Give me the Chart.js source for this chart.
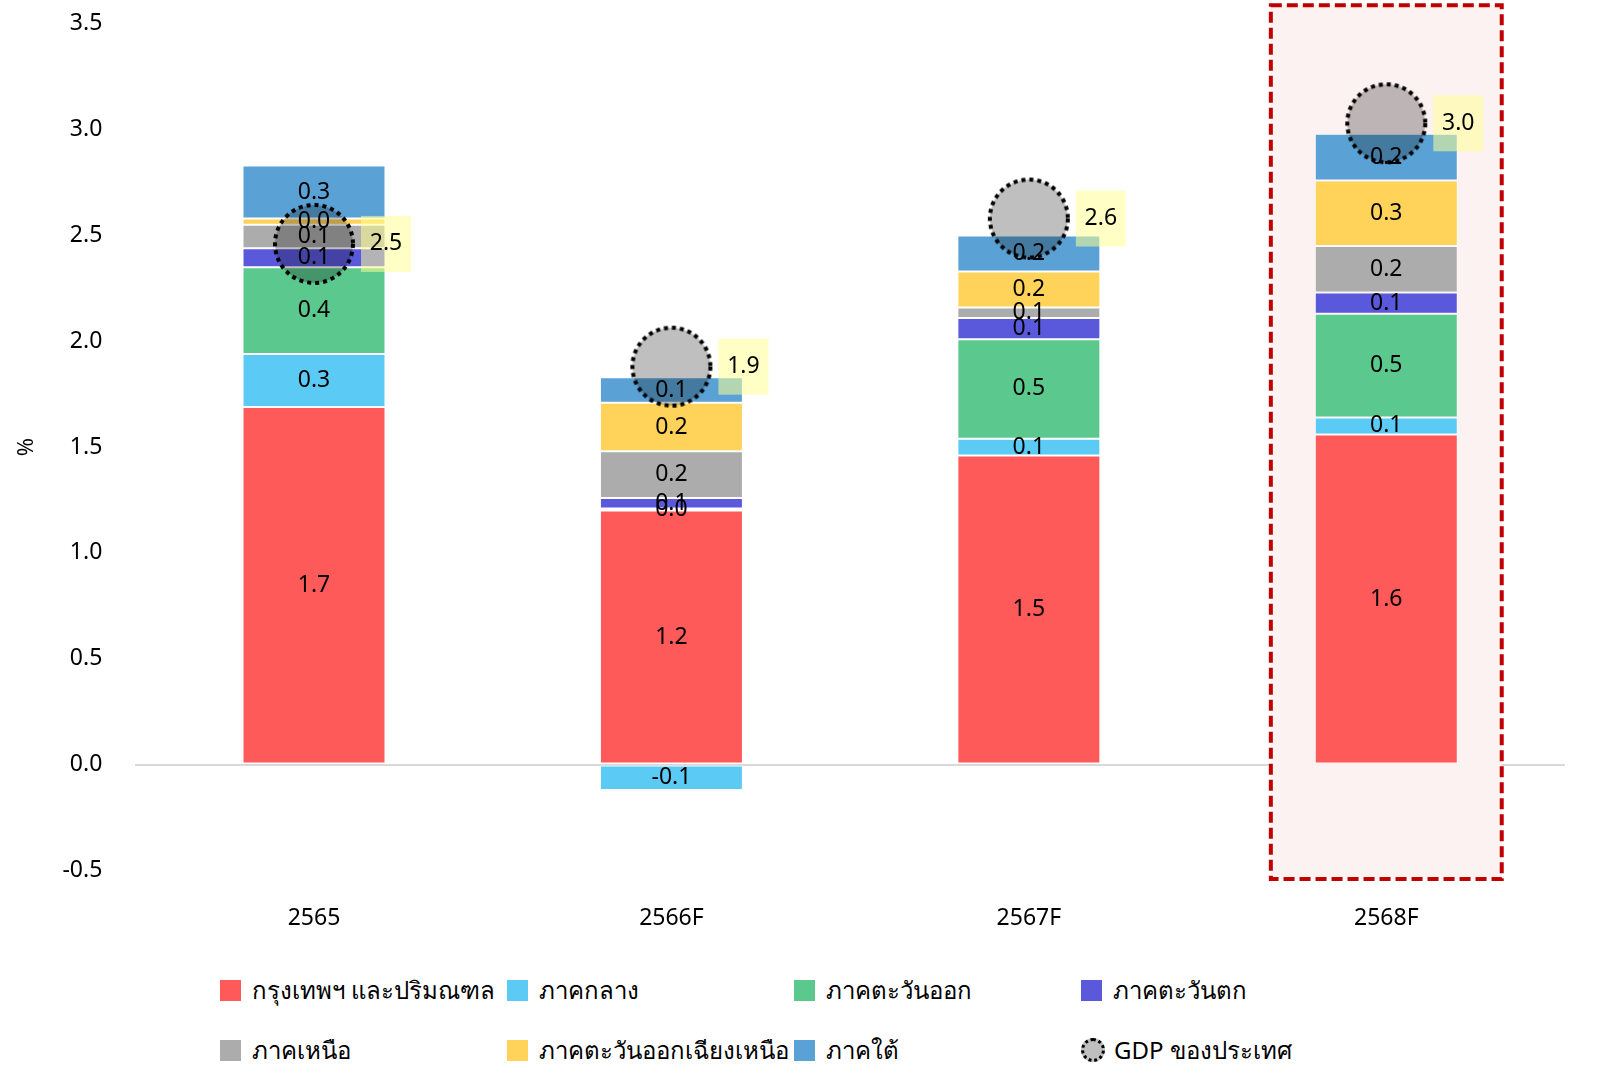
<!DOCTYPE html>
<html>
<head>
<meta charset="utf-8">
<script src="https://cdn.jsdelivr.net/npm/chart.js@4.4.0/dist/chart.umd.min.js"></script>
<style>
body { margin: 0; background: #fff; font-family: "Noto Sans", sans-serif; }
#wrap { position: relative; width: 1606px; height: 1091px; overflow: hidden; }
#box { position: absolute; left: 0; top: -23px; width: 1606px; height: 981px; }
#legend { position: absolute; left: 220px; top: 973px; display: grid; grid-template-columns: repeat(4, 287px); row-gap: 26px; }
.item { display: flex; align-items: center; height: 34px; font-size: 24px; color: #000; white-space: nowrap; }
.sw { width: 21px; height: 21px; margin-right: 11px; flex: none; }
.dot { width: 18px; height: 18px; border-radius: 50%; background: #bfbfbf; border: 3px dotted #000; margin-right: 9px; flex: none; }
</style>
</head>
<body>
<div id="wrap">
  <div id="box"><canvas id="chart"></canvas></div>
  <div id="legend"></div>
</div>
<script>
const years = ["2565", "2566F", "2567F", "2568F"];
const regionNames = ["กรุงเทพฯ และปริมณฑล", "ภาคกลาง", "ภาคตะวันออก", "ภาคตะวันตก", "ภาคเหนือ", "ภาคตะวันออกเฉียงเหนือ", "ภาคใต้"];
const regionColors = ["#ff5a5a", "#5bcbf5", "#5bc98d", "#5a58db", "#acacac", "#ffd35a", "#5aa2d6"];
const bangkok = [1.69, 1.20, 1.46, 1.56];
const central = [0.25, -0.12, 0.08, 0.08];
const east = [0.41, 0.01, 0.47, 0.49];
const west = [0.09, 0.05, 0.10, 0.10];
const north = [0.11, 0.22, 0.05, 0.22];
const northeast = [0.03, 0.23, 0.17, 0.31];
const south = [0.25, 0.12, 0.17, 0.22];
const gdp = [2.46, 1.88, 2.58, 3.03];
const gdpName = "GDP ของประเทศ";
const yTicks = [-0.5, 0.0, 0.5, 1.0, 1.5, 2.0, 2.5, 3.0, 3.5];

const regionValues = [bangkok, central, east, west, north, northeast, south];

const FONT = "'Noto Sans', sans-serif";

// dotted grey circle used as the GDP point style
function gdpMarker() {
    const c = document.createElement("canvas");
    c.width = 86;
    c.height = 86;
    const g = c.getContext("2d");
    g.beginPath();
    g.arc(43, 43, 39, 0, Math.PI * 2);
    g.fillStyle = "#bfbfbf";
    g.fill();
    g.setLineDash([4, 4]);
    g.lineWidth = 4;
    g.strokeStyle = "#000";
    g.stroke();
    return c;
}

// pink box with red dashes around last year
const highlightPlugin = {
    id: "highlight",
    beforeDatasetsDraw(chart) {
        const ctx = chart.ctx;
        const xs = chart.scales.x, ys = chart.scales.y;
        const step = xs.getPixelForValue(1) - xs.getPixelForValue(0);
        const cx = xs.getPixelForValue(3);
        const left = cx - step * 0.323, right = cx + step * 0.323;
        const top = ys.getPixelForValue(3.588), bottom = ys.getPixelForValue(-0.541);
        ctx.save();
        ctx.fillStyle = "#fcf2f2";
        ctx.fillRect(left, top, right - left, bottom - top);
        ctx.strokeStyle = "#c00000";
        ctx.lineWidth = 4;
        ctx.setLineDash([11, 5]);
        ctx.strokeRect(left, top, right - left, bottom - top);
        ctx.restore();
    }
};

// GDP circles are multiplied over the bars
const gdpStylePlugin = {
    id: "gdpStyle",
    beforeDatasetDraw(chart, args) {
        if (chart.data.datasets[args.index].isGdp) {
            chart.ctx.save();
            chart.ctx.globalCompositeOperation = "multiply";
        }
    },
    afterDatasetDraw(chart, args) {
        if (chart.data.datasets[args.index].isGdp) chart.ctx.restore();
    }
};

const labelPlugin = {
    id: "labels",
    afterDatasetsDraw(chart) {
        const ctx = chart.ctx;
        ctx.save();
        ctx.font = "23px " + FONT;
        ctx.textAlign = "center";
        ctx.textBaseline = "middle";
        chart.data.datasets.forEach((ds, i) => {
            const meta = chart.getDatasetMeta(i);
            meta.data.forEach((el, j) => {
                const v = ds.data[j];
                if (ds.isGdp) {
                    const bx = el.x + 47, by = el.y - 28;
                    ctx.fillStyle = "rgba(255,255,150,0.55)";
                    ctx.fillRect(bx, by, 50, 56);
                    ctx.fillStyle = "#000";
                    ctx.fillText(v.toFixed(1), bx + 25, el.y);
                } else {
                    ctx.fillStyle = "#000";
                    ctx.fillText(v.toFixed(1), el.x, (el.y + el.base) / 2);
                }
            });
        });
        ctx.restore();
    }
};

const datasets = regionNames.map((name, i) => ({
    type: "bar",
    label: name,
    data: regionValues[i],
    backgroundColor: regionColors[i],
    borderColor: "rgba(255,255,255,0.7)",
    borderWidth: 1,
    borderSkipped: false,
    stack: "regions",
    order: 1,
    barPercentage: 0.4,
    categoryPercentage: 1
}));
datasets.push({
    type: "line",
    label: gdpName,
    data: gdp,
    isGdp: true,
    stack: "gdp",
    order: 0,
    showLine: false,
    pointStyle: gdpMarker(),
    pointRadius: 1,
    pointBorderWidth: 0
});

const config = {
    data: { labels: years, datasets: datasets },
    options: {
        responsive: true,
        maintainAspectRatio: false,
        animation: false,
        layout: { autoPadding: false, padding: { top: -5, right: 41, left: 10, bottom: 0 } },
        plugins: {
            legend: { display: false },
            tooltip: { enabled: false }
        },
        scales: {
            x: {
                stacked: true,
                grid: { display: false },
                border: { display: false },
                ticks: { color: "#000", font: { size: 23, family: FONT }, padding: 26 }
            },
            y: {
                stacked: true,
                min: yTicks[0],
                max: yTicks[yTicks.length - 1],
                afterBuildTicks: (axis) => { axis.ticks = yTicks.map(v => ({ value: v })); },
                grid: {
                    drawTicks: false,
                    lineWidth: 2,
                    color: (c) => (c.tick && c.tick.value === 0 ? "#d9d9d9" : "transparent")
                },
                border: { display: false },
                ticks: {
                    color: "#000",
                    font: { size: 23, family: FONT },
                    padding: 33,
                    callback: (v) => Number(v).toFixed(1)
                },
                title: { display: true, text: "%", color: "#000", font: { size: 22, family: FONT }, padding: { top: 4, bottom: -11 } }
            }
        }
    },
    plugins: [highlightPlugin, gdpStylePlugin, labelPlugin]
};

new Chart("chart", config);

// legend: 4 columns, two rows
const legend = document.getElementById("legend");
regionNames.forEach((name, i) => {
    const it = document.createElement("div");
    it.className = "item";
    it.innerHTML = '<span class="sw" style="background:' + regionColors[i] + '"></span>' + name;
    legend.appendChild(it);
});
const g = document.createElement("div");
g.className = "item";
g.innerHTML = '<span class="dot"></span>' + gdpName;
legend.appendChild(g);
</script>
</body>
</html>
